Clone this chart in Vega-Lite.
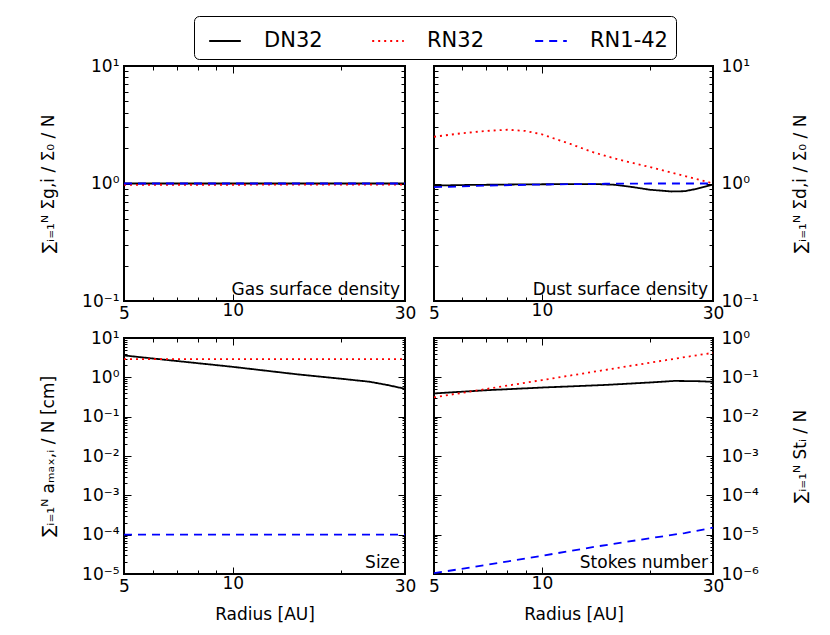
{
  "$schema": "https://vega.github.io/schema/vega-lite/v6.json",
  "background": "white",
  "padding": {"left": 38, "top": 15, "right": 5, "bottom": 5},
  "datasets": {
    "d": [
      {"p": "gas", "run": "DN32", "r": 5, "v": 1.0},
      {"p": "gas", "run": "DN32", "r": 10, "v": 1.0},
      {"p": "gas", "run": "DN32", "r": 20, "v": 1.0},
      {"p": "gas", "run": "DN32", "r": 30, "v": 1.0},
      {"p": "gas", "run": "RN32", "r": 5, "v": 0.975},
      {"p": "gas", "run": "RN32", "r": 10, "v": 0.976},
      {"p": "gas", "run": "RN32", "r": 20, "v": 0.978},
      {"p": "gas", "run": "RN32", "r": 30, "v": 0.98},
      {"p": "gas", "run": "RN1-42", "r": 5, "v": 1.0},
      {"p": "gas", "run": "RN1-42", "r": 10, "v": 1.0},
      {"p": "gas", "run": "RN1-42", "r": 20, "v": 1.0},
      {"p": "gas", "run": "RN1-42", "r": 30, "v": 1.0},

      {"p": "dust", "run": "DN32", "r": 5, "v": 0.96},
      {"p": "dust", "run": "DN32", "r": 6, "v": 0.97},
      {"p": "dust", "run": "DN32", "r": 8, "v": 0.98},
      {"p": "dust", "run": "DN32", "r": 10, "v": 0.985},
      {"p": "dust", "run": "DN32", "r": 14, "v": 0.99},
      {"p": "dust", "run": "DN32", "r": 16, "v": 0.975},
      {"p": "dust", "run": "DN32", "r": 18, "v": 0.93},
      {"p": "dust", "run": "DN32", "r": 20, "v": 0.885},
      {"p": "dust", "run": "DN32", "r": 23, "v": 0.855},
      {"p": "dust", "run": "DN32", "r": 25, "v": 0.86},
      {"p": "dust", "run": "DN32", "r": 27, "v": 0.9},
      {"p": "dust", "run": "DN32", "r": 30, "v": 0.98},
      {"p": "dust", "run": "RN32", "r": 5, "v": 2.5},
      {"p": "dust", "run": "RN32", "r": 6, "v": 2.68},
      {"p": "dust", "run": "RN32", "r": 7, "v": 2.8},
      {"p": "dust", "run": "RN32", "r": 8, "v": 2.87},
      {"p": "dust", "run": "RN32", "r": 9, "v": 2.8},
      {"p": "dust", "run": "RN32", "r": 10, "v": 2.62},
      {"p": "dust", "run": "RN32", "r": 12, "v": 2.17},
      {"p": "dust", "run": "RN32", "r": 14, "v": 1.83},
      {"p": "dust", "run": "RN32", "r": 16, "v": 1.63},
      {"p": "dust", "run": "RN32", "r": 18, "v": 1.49},
      {"p": "dust", "run": "RN32", "r": 20, "v": 1.38},
      {"p": "dust", "run": "RN32", "r": 22, "v": 1.28},
      {"p": "dust", "run": "RN32", "r": 25, "v": 1.16},
      {"p": "dust", "run": "RN32", "r": 28, "v": 1.06},
      {"p": "dust", "run": "RN32", "r": 30, "v": 1.0},
      {"p": "dust", "run": "RN1-42", "r": 5, "v": 0.93},
      {"p": "dust", "run": "RN1-42", "r": 6, "v": 0.945},
      {"p": "dust", "run": "RN1-42", "r": 7, "v": 0.96},
      {"p": "dust", "run": "RN1-42", "r": 10, "v": 0.98},
      {"p": "dust", "run": "RN1-42", "r": 15, "v": 0.995},
      {"p": "dust", "run": "RN1-42", "r": 20, "v": 1.0},
      {"p": "dust", "run": "RN1-42", "r": 30, "v": 1.0},

      {"p": "size", "run": "DN32", "r": 5, "v": 3.6},
      {"p": "size", "run": "DN32", "r": 7, "v": 2.6},
      {"p": "size", "run": "DN32", "r": 10, "v": 1.85},
      {"p": "size", "run": "DN32", "r": 15, "v": 1.2},
      {"p": "size", "run": "DN32", "r": 20, "v": 0.92},
      {"p": "size", "run": "DN32", "r": 24, "v": 0.77},
      {"p": "size", "run": "DN32", "r": 27, "v": 0.63},
      {"p": "size", "run": "DN32", "r": 30, "v": 0.51},
      {"p": "size", "run": "RN32", "r": 5, "v": 2.9},
      {"p": "size", "run": "RN32", "r": 10, "v": 2.9},
      {"p": "size", "run": "RN32", "r": 20, "v": 2.9},
      {"p": "size", "run": "RN32", "r": 30, "v": 2.9},
      {"p": "size", "run": "RN1-42", "r": 5, "v": 0.0001},
      {"p": "size", "run": "RN1-42", "r": 10, "v": 0.0001},
      {"p": "size", "run": "RN1-42", "r": 20, "v": 0.0001},
      {"p": "size", "run": "RN1-42", "r": 30, "v": 0.0001},

      {"p": "stokes", "run": "DN32", "r": 5, "v": 0.039},
      {"p": "stokes", "run": "DN32", "r": 7, "v": 0.047},
      {"p": "stokes", "run": "DN32", "r": 10, "v": 0.055},
      {"p": "stokes", "run": "DN32", "r": 15, "v": 0.064},
      {"p": "stokes", "run": "DN32", "r": 20, "v": 0.074},
      {"p": "stokes", "run": "DN32", "r": 23.4, "v": 0.081},
      {"p": "stokes", "run": "DN32", "r": 27, "v": 0.08},
      {"p": "stokes", "run": "DN32", "r": 30, "v": 0.077},
      {"p": "stokes", "run": "RN32", "r": 5, "v": 0.031},
      {"p": "stokes", "run": "RN32", "r": 7, "v": 0.0506},
      {"p": "stokes", "run": "RN32", "r": 10, "v": 0.085},
      {"p": "stokes", "run": "RN32", "r": 13, "v": 0.125},
      {"p": "stokes", "run": "RN32", "r": 20, "v": 0.235},
      {"p": "stokes", "run": "RN32", "r": 25, "v": 0.326},
      {"p": "stokes", "run": "RN32", "r": 30, "v": 0.42},
      {"p": "stokes", "run": "RN1-42", "r": 5, "v": 0.00000105},
      {"p": "stokes", "run": "RN1-42", "r": 7, "v": 0.0000017},
      {"p": "stokes", "run": "RN1-42", "r": 10, "v": 0.0000029},
      {"p": "stokes", "run": "RN1-42", "r": 14, "v": 0.0000049},
      {"p": "stokes", "run": "RN1-42", "r": 20, "v": 0.0000081},
      {"p": "stokes", "run": "RN1-42", "r": 25, "v": 0.000011},
      {"p": "stokes", "run": "RN1-42", "r": 30, "v": 0.000015}
    ]
  },
  "config": {
    "font": "DejaVu Sans",
    "view": {"stroke": "black", "strokeWidth": 2},
    "axis": {
      "domain": false,
      "grid": false,
      "labelFontSize": 17,
      "labelColor": "black",
      "labelFlush": false,
      "labelOverlap": false,
      "labelBound": false,
      "titleFontSize": 17,
      "titleFontWeight": "normal",
      "titleColor": "black",
      "tickColor": "black",
      "tickWidth": 1
    },
    "line": {"strokeWidth": 1.8, "clip": true}
  },
  "vconcat": [
    {
      "hconcat": [
        {
          "width": 281, "height": 235,
          "data": {"name": "d"},
          "transform": [{"filter": "datum.p == 'gas'"}],
          "resolve": {"axis": {"x": "independent", "y": "independent"}},
          "layer": [
            {
              "mark": "line",
              "encoding": {
                "x": {"field": "r", "type": "quantitative", "scale": {"type": "log", "domain": [5, 30], "nice": false},
                  "axis": {"orient": "bottom", "title": null, "values": [5, 6, 7, 8, 9, 10, 20, 30],
                    "labelExpr": "(datum.value == 5 || datum.value == 10 || datum.value == 30) ? toString(datum.value) : ''",
                    "tickSize": {"condition": {"test": "datum.value == 10", "value": -7}, "value": -4}, "labelPadding": 8}},
                "y": {"field": "v", "type": "quantitative", "scale": {"type": "log", "domain": [0.1, 10], "nice": false},
                  "axis": {"orient": "left", "title": "∑ᵢ₌₁ᴺ Σg,i / Σ₀ / N", "values": [0.1, 0.2, 0.3, 0.4, 0.5, 0.6, 0.7, 0.8, 0.9, 1, 2, 3, 4, 5, 6, 7, 8, 9, 10],
                    "labelExpr": "abs(log(datum.value)/LN10 - round(log(datum.value)/LN10)) < 0.001 ? '10' + replace(replace(replace(replace(replace(replace(replace(replace(toString(round(log(datum.value)/LN10)),'-','⁻'),'0','⁰'),'1','¹'),'2','²'),'3','³'),'4','⁴'),'5','⁵'),'6','⁶') : ''",
                    "tickSize": {"condition": {"test": "abs(log(datum.value)/LN10 - round(log(datum.value)/LN10)) < 0.001", "value": -7}, "value": -4}, "labelPadding": 12, "titlePadding": 24}},
                "color": {"field": "run", "type": "nominal", "scale": {"domain": ["DN32", "RN32", "RN1-42"], "range": ["black", "red", "blue"]},
                  "legend": {"orient": "none", "legendX": 70, "legendY": -50, "direction": "horizontal", "columns": 3, "title": null, "symbolType": "stroke", "symbolSize": 1000, "symbolStrokeWidth": 2, "symbolOffset": 6, "labelFontSize": 21, "labelOffset": 22, "gridAlign": "all", "columnPadding": 23, "padding": 8, "strokeColor": "black", "fillColor": "white", "cornerRadius": 5}},
                "strokeDash": {"field": "run", "type": "nominal", "scale": {"domain": ["DN32", "RN32", "RN1-42"], "range": [[1, 0], [2, 4], [8, 6]]}, "legend": null}
              }
            },
            {
              "data": {"values": [{"t": "Gas surface density"}]},
              "mark": {"type": "text", "align": "right", "baseline": "bottom", "dx": -5, "dy": -2, "fontSize": 17},
              "encoding": {
                "text": {"field": "t"},
                "x": {"datum": 30, "type": "quantitative", "scale": {"type": "log", "domain": [5, 30], "nice": false},
                  "axis": {"orient": "top", "title": null, "values": [5, 6, 7, 8, 9, 10, 20, 30], "labels": false,
                    "tickSize": {"condition": {"test": "datum.value == 10", "value": -7}, "value": -4}}},
                "y": {"datum": 0.1, "type": "quantitative", "scale": {"type": "log", "domain": [0.1, 10], "nice": false},
                  "axis": {"orient": "right", "title": null, "labels": false, "values": [0.1, 0.2, 0.3, 0.4, 0.5, 0.6, 0.7, 0.8, 0.9, 1, 2, 3, 4, 5, 6, 7, 8, 9, 10],
                    "tickSize": {"condition": {"test": "abs(log(datum.value)/LN10 - round(log(datum.value)/LN10)) < 0.001", "value": -7}, "value": -4}}}
              }
            }
          ]
        },
        {
          "width": 279, "height": 235,
          "data": {"name": "d"},
          "transform": [{"filter": "datum.p == 'dust'"}],
          "resolve": {"axis": {"x": "independent", "y": "independent"}},
          "layer": [
            {
              "mark": "line",
              "encoding": {
                "x": {"field": "r", "type": "quantitative", "scale": {"type": "log", "domain": [5, 30], "nice": false},
                  "axis": {"orient": "bottom", "title": null, "values": [5, 6, 7, 8, 9, 10, 20, 30],
                    "labelExpr": "(datum.value == 5 || datum.value == 10 || datum.value == 30) ? toString(datum.value) : ''",
                    "tickSize": {"condition": {"test": "datum.value == 10", "value": -7}, "value": -4}, "labelPadding": 8}},
                "y": {"field": "v", "type": "quantitative", "scale": {"type": "log", "domain": [0.1, 10], "nice": false},
                  "axis": {"orient": "right", "title": "∑ᵢ₌₁ᴺ Σd,i / Σ₀ / N", "titleAngle": 270, "titleBaseline": "top", "values": [0.1, 0.2, 0.3, 0.4, 0.5, 0.6, 0.7, 0.8, 0.9, 1, 2, 3, 4, 5, 6, 7, 8, 9, 10],
                    "labelExpr": "abs(log(datum.value)/LN10 - round(log(datum.value)/LN10)) < 0.001 ? '10' + replace(replace(replace(replace(replace(replace(replace(replace(toString(round(log(datum.value)/LN10)),'-','⁻'),'0','⁰'),'1','¹'),'2','²'),'3','³'),'4','⁴'),'5','⁵'),'6','⁶') : ''",
                    "tickSize": {"condition": {"test": "abs(log(datum.value)/LN10 - round(log(datum.value)/LN10)) < 0.001", "value": -7}, "value": -4}, "labelPadding": 15, "titlePadding": 34}},
                "color": {"field": "run", "type": "nominal", "scale": {"domain": ["DN32", "RN32", "RN1-42"], "range": ["black", "red", "blue"]},
                  "legend": {"orient": "none", "legendX": 70, "legendY": -50, "direction": "horizontal", "columns": 3, "title": null, "symbolType": "stroke", "symbolSize": 1000, "symbolStrokeWidth": 2, "symbolOffset": 6, "labelFontSize": 21, "labelOffset": 22, "gridAlign": "all", "columnPadding": 23, "padding": 8, "strokeColor": "black", "fillColor": "white", "cornerRadius": 5}},
                "strokeDash": {"field": "run", "type": "nominal", "scale": {"domain": ["DN32", "RN32", "RN1-42"], "range": [[1, 0], [2, 4], [8, 6]]}, "legend": null}
              }
            },
            {
              "data": {"values": [{"t": "Dust surface density"}]},
              "mark": {"type": "text", "align": "right", "baseline": "bottom", "dx": -5, "dy": -2, "fontSize": 17},
              "encoding": {
                "text": {"field": "t"},
                "x": {"datum": 30, "type": "quantitative", "scale": {"type": "log", "domain": [5, 30], "nice": false},
                  "axis": {"orient": "top", "title": null, "values": [5, 6, 7, 8, 9, 10, 20, 30], "labels": false,
                    "tickSize": {"condition": {"test": "datum.value == 10", "value": -7}, "value": -4}}},
                "y": {"datum": 0.1, "type": "quantitative", "scale": {"type": "log", "domain": [0.1, 10], "nice": false},
                  "axis": {"orient": "left", "title": null, "labels": false, "values": [0.1, 0.2, 0.3, 0.4, 0.5, 0.6, 0.7, 0.8, 0.9, 1, 2, 3, 4, 5, 6, 7, 8, 9, 10],
                    "tickSize": {"condition": {"test": "abs(log(datum.value)/LN10 - round(log(datum.value)/LN10)) < 0.001", "value": -7}, "value": -4}}}
              }
            }
          ]
        }
      ],
      "spacing": 10
    },
    {
      "hconcat": [
        {
          "width": 281, "height": 236,
          "data": {"name": "d"},
          "transform": [{"filter": "datum.p == 'size'"}],
          "resolve": {"axis": {"x": "independent", "y": "independent"}},
          "layer": [
            {
              "mark": "line",
              "encoding": {
                "x": {"field": "r", "type": "quantitative", "scale": {"type": "log", "domain": [5, 30], "nice": false},
                  "axis": {"orient": "bottom", "title": "Radius [AU]", "titlePadding": 12, "values": [5, 6, 7, 8, 9, 10, 20, 30],
                    "labelExpr": "(datum.value == 5 || datum.value == 10 || datum.value == 30) ? toString(datum.value) : ''",
                    "tickSize": {"condition": {"test": "datum.value == 10", "value": -7}, "value": -4}, "labelPadding": 8}},
                "y": {"field": "v", "type": "quantitative", "scale": {"type": "log", "domain": [0.00001, 10], "nice": false},
                  "axis": {"orient": "left", "title": "∑ᵢ₌₁ᴺ aₘₐₓ,ᵢ / N [cm]", "values": [0.00001, 0.00002, 0.00003, 0.00004, 0.00005, 0.00006, 0.00007, 0.00008, 0.00009, 0.0001, 0.0002, 0.0003, 0.0004, 0.0005, 0.0006, 0.0007, 0.0008, 0.0009, 0.001, 0.002, 0.003, 0.004, 0.005, 0.006, 0.007, 0.008, 0.009, 0.01, 0.02, 0.03, 0.04, 0.05, 0.06, 0.07, 0.08, 0.09, 0.1, 0.2, 0.3, 0.4, 0.5, 0.6, 0.7, 0.8, 0.9, 1, 2, 3, 4, 5, 6, 7, 8, 9, 10],
                    "labelExpr": "abs(log(datum.value)/LN10 - round(log(datum.value)/LN10)) < 0.001 ? '10' + replace(replace(replace(replace(replace(replace(replace(replace(toString(round(log(datum.value)/LN10)),'-','⁻'),'0','⁰'),'1','¹'),'2','²'),'3','³'),'4','⁴'),'5','⁵'),'6','⁶') : ''",
                    "tickSize": {"condition": {"test": "abs(log(datum.value)/LN10 - round(log(datum.value)/LN10)) < 0.001", "value": -7}, "value": -3}, "labelPadding": 12, "titlePadding": 24}},
                "color": {"field": "run", "type": "nominal", "scale": {"domain": ["DN32", "RN32", "RN1-42"], "range": ["black", "red", "blue"]},
                  "legend": {"orient": "none", "legendX": 70, "legendY": -50, "direction": "horizontal", "columns": 3, "title": null, "symbolType": "stroke", "symbolSize": 1000, "symbolStrokeWidth": 2, "symbolOffset": 6, "labelFontSize": 21, "labelOffset": 22, "gridAlign": "all", "columnPadding": 23, "padding": 8, "strokeColor": "black", "fillColor": "white", "cornerRadius": 5}},
                "strokeDash": {"field": "run", "type": "nominal", "scale": {"domain": ["DN32", "RN32", "RN1-42"], "range": [[1, 0], [2, 4], [8, 6]]}, "legend": null}
              }
            },
            {
              "data": {"values": [{"t": "Size"}]},
              "mark": {"type": "text", "align": "right", "baseline": "bottom", "dx": -5, "dy": -2, "fontSize": 17},
              "encoding": {
                "text": {"field": "t"},
                "x": {"datum": 30, "type": "quantitative", "scale": {"type": "log", "domain": [5, 30], "nice": false},
                  "axis": {"orient": "top", "title": null, "values": [5, 6, 7, 8, 9, 10, 20, 30], "labels": false,
                    "tickSize": {"condition": {"test": "datum.value == 10", "value": -7}, "value": -4}}},
                "y": {"datum": 0.00001, "type": "quantitative", "scale": {"type": "log", "domain": [0.00001, 10], "nice": false},
                  "axis": {"orient": "right", "title": null, "labels": false, "values": [0.00001, 0.00002, 0.00003, 0.00004, 0.00005, 0.00006, 0.00007, 0.00008, 0.00009, 0.0001, 0.0002, 0.0003, 0.0004, 0.0005, 0.0006, 0.0007, 0.0008, 0.0009, 0.001, 0.002, 0.003, 0.004, 0.005, 0.006, 0.007, 0.008, 0.009, 0.01, 0.02, 0.03, 0.04, 0.05, 0.06, 0.07, 0.08, 0.09, 0.1, 0.2, 0.3, 0.4, 0.5, 0.6, 0.7, 0.8, 0.9, 1, 2, 3, 4, 5, 6, 7, 8, 9, 10],
                    "tickSize": {"condition": {"test": "abs(log(datum.value)/LN10 - round(log(datum.value)/LN10)) < 0.001", "value": -7}, "value": -3}}}
              }
            }
          ]
        },
        {
          "width": 279, "height": 236,
          "data": {"name": "d"},
          "transform": [{"filter": "datum.p == 'stokes'"}],
          "resolve": {"axis": {"x": "independent", "y": "independent"}},
          "layer": [
            {
              "mark": "line",
              "encoding": {
                "x": {"field": "r", "type": "quantitative", "scale": {"type": "log", "domain": [5, 30], "nice": false},
                  "axis": {"orient": "bottom", "title": "Radius [AU]", "titlePadding": 12, "values": [5, 6, 7, 8, 9, 10, 20, 30],
                    "labelExpr": "(datum.value == 5 || datum.value == 10 || datum.value == 30) ? toString(datum.value) : ''",
                    "tickSize": {"condition": {"test": "datum.value == 10", "value": -7}, "value": -4}, "labelPadding": 8}},
                "y": {"field": "v", "type": "quantitative", "scale": {"type": "log", "domain": [0.000001, 1], "nice": false},
                  "axis": {"orient": "right", "title": "∑ᵢ₌₁ᴺ Stᵢ / N", "titleAngle": 270, "titleBaseline": "top", "values": [0.000001, 0.000002, 0.000003, 0.000004, 0.000005, 0.000006, 0.000007, 0.000008, 0.000009, 0.00001, 0.00002, 0.00003, 0.00004, 0.00005, 0.00006, 0.00007, 0.00008, 0.00009, 0.0001, 0.0002, 0.0003, 0.0004, 0.0005, 0.0006, 0.0007, 0.0008, 0.0009, 0.001, 0.002, 0.003, 0.004, 0.005, 0.006, 0.007, 0.008, 0.009, 0.01, 0.02, 0.03, 0.04, 0.05, 0.06, 0.07, 0.08, 0.09, 0.1, 0.2, 0.3, 0.4, 0.5, 0.6, 0.7, 0.8, 0.9, 1],
                    "labelExpr": "abs(log(datum.value)/LN10 - round(log(datum.value)/LN10)) < 0.001 ? '10' + replace(replace(replace(replace(replace(replace(replace(replace(toString(round(log(datum.value)/LN10)),'-','⁻'),'0','⁰'),'1','¹'),'2','²'),'3','³'),'4','⁴'),'5','⁵'),'6','⁶') : ''",
                    "tickSize": {"condition": {"test": "abs(log(datum.value)/LN10 - round(log(datum.value)/LN10)) < 0.001", "value": -7}, "value": -3}, "labelPadding": 15, "titlePadding": 34}},
                "color": {"field": "run", "type": "nominal", "scale": {"domain": ["DN32", "RN32", "RN1-42"], "range": ["black", "red", "blue"]},
                  "legend": {"orient": "none", "legendX": 70, "legendY": -50, "direction": "horizontal", "columns": 3, "title": null, "symbolType": "stroke", "symbolSize": 1000, "symbolStrokeWidth": 2, "symbolOffset": 6, "labelFontSize": 21, "labelOffset": 22, "gridAlign": "all", "columnPadding": 23, "padding": 8, "strokeColor": "black", "fillColor": "white", "cornerRadius": 5}},
                "strokeDash": {"field": "run", "type": "nominal", "scale": {"domain": ["DN32", "RN32", "RN1-42"], "range": [[1, 0], [2, 4], [8, 6]]}, "legend": null}
              }
            },
            {
              "data": {"values": [{"t": "Stokes number"}]},
              "mark": {"type": "text", "align": "right", "baseline": "bottom", "dx": -5, "dy": -2, "fontSize": 17},
              "encoding": {
                "text": {"field": "t"},
                "x": {"datum": 30, "type": "quantitative", "scale": {"type": "log", "domain": [5, 30], "nice": false},
                  "axis": {"orient": "top", "title": null, "values": [5, 6, 7, 8, 9, 10, 20, 30], "labels": false,
                    "tickSize": {"condition": {"test": "datum.value == 10", "value": -7}, "value": -4}}},
                "y": {"datum": 0.000001, "type": "quantitative", "scale": {"type": "log", "domain": [0.000001, 1], "nice": false},
                  "axis": {"orient": "left", "title": null, "labels": false, "values": [0.000001, 0.000002, 0.000003, 0.000004, 0.000005, 0.000006, 0.000007, 0.000008, 0.000009, 0.00001, 0.00002, 0.00003, 0.00004, 0.00005, 0.00006, 0.00007, 0.00008, 0.00009, 0.0001, 0.0002, 0.0003, 0.0004, 0.0005, 0.0006, 0.0007, 0.0008, 0.0009, 0.001, 0.002, 0.003, 0.004, 0.005, 0.006, 0.007, 0.008, 0.009, 0.01, 0.02, 0.03, 0.04, 0.05, 0.06, 0.07, 0.08, 0.09, 0.1, 0.2, 0.3, 0.4, 0.5, 0.6, 0.7, 0.8, 0.9, 1],
                    "tickSize": {"condition": {"test": "abs(log(datum.value)/LN10 - round(log(datum.value)/LN10)) < 0.001", "value": -7}, "value": -3}}}
              }
            }
          ]
        }
      ],
      "spacing": 10
    }
  ],
  "spacing": 6
}
